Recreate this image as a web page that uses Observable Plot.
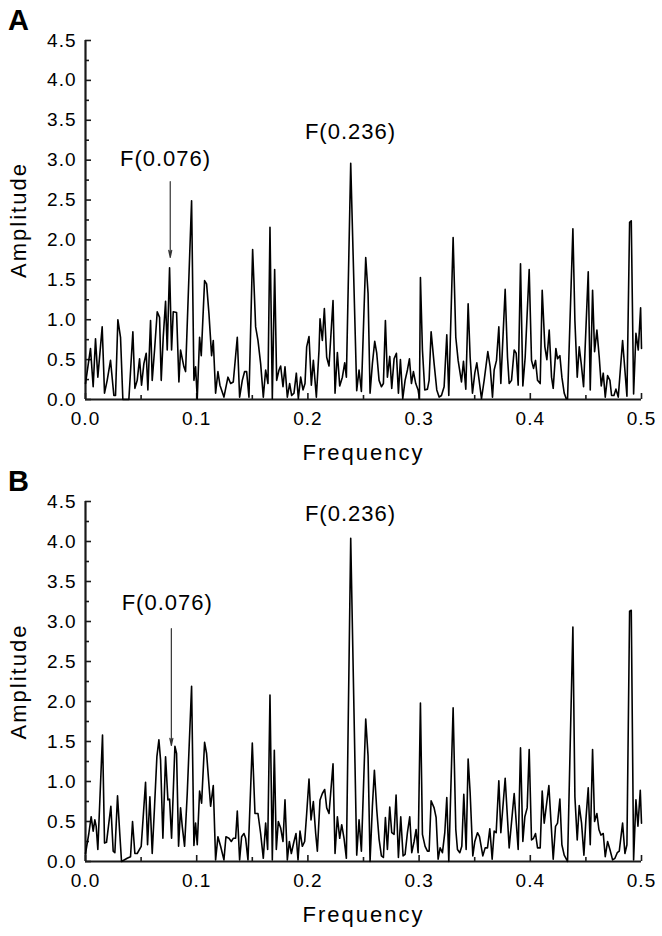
<!DOCTYPE html>
<html>
<head>
<meta charset="utf-8">
<script src="https://cdn.jsdelivr.net/npm/d3@7"></script>
<script src="https://cdn.jsdelivr.net/npm/@observablehq/plot@0.6"></script>
<style>
  html, body { margin: 0; padding: 0; background: #fff; }
  #chart svg { display: block; }
</style>
</head>
<body>
<div id="chart"></div>
<script>
// ---- data: [frequency, amplitude] ----
const seriesA = [
  [0.0000,0.20],[0.0045,0.64],[0.0069,0.16],[0.0090,0.76],[0.0111,0.28],[0.0150,0.91],[0.0171,0.08],[0.0195,0.24],
  [0.0225,0.49],[0.0255,0.05],[0.0270,0.05],[0.0291,1.00],[0.0315,0.78],[0.0336,0.00],[0.0390,0.00],[0.0426,0.85],
  [0.0444,0.14],[0.0465,0.24],[0.0486,0.51],[0.0504,0.18],[0.0525,0.45],[0.0546,0.58],[0.0561,0.12],[0.0585,0.99],
  [0.0600,0.24],[0.0621,0.62],[0.0645,1.10],[0.0666,1.03],[0.0681,0.24],[0.0699,0.78],[0.0720,1.23],[0.0735,0.62],
  [0.0756,1.65],[0.0774,0.62],[0.0789,1.10],[0.0819,1.09],[0.0840,0.22],[0.0855,0.62],[0.0885,0.41],[0.0900,0.35],
  [0.0954,2.49],[0.0975,0.24],[0.0990,0.41],[0.1005,0.01],[0.1026,0.78],[0.1041,0.55],[0.1071,1.49],[0.1089,1.45],
  [0.1110,1.08],[0.1134,0.55],[0.1149,0.74],[0.1170,0.08],[0.1191,0.35],[0.1209,0.18],[0.1245,0.03],[0.1281,0.28],
  [0.1305,0.20],[0.1329,0.22],[0.1365,0.78],[0.1386,0.03],[0.1410,0.24],[0.1431,0.35],[0.1449,0.35],[0.1470,0.03],
  [0.1503,1.88],[0.1530,0.91],[0.1551,0.74],[0.1575,0.45],[0.1599,0.03],[0.1620,0.37],[0.1641,0.20],[0.1659,2.16],
  [0.1680,0.01],[0.1701,1.63],[0.1719,0.24],[0.1740,0.37],[0.1755,0.42],[0.1776,0.16],[0.1794,0.41],[0.1815,0.03],
  [0.1836,0.20],[0.1854,0.05],[0.1875,0.08],[0.1896,0.33],[0.1914,0.01],[0.1935,0.28],[0.1956,0.12],[0.1974,0.20],
  [0.1989,0.66],[0.2010,0.79],[0.2031,0.18],[0.2049,0.49],[0.2076,0.03],[0.2100,0.62],[0.2109,1.01],[0.2130,0.74],
  [0.2148,1.14],[0.2169,0.53],[0.2190,0.42],[0.2226,1.24],[0.2244,0.08],[0.2265,0.59],[0.2286,0.17],[0.2310,0.28],
  [0.2331,0.46],[0.2346,0.28],[0.2385,2.96],[0.2439,0.11],[0.2460,0.37],[0.2481,0.10],[0.2520,1.78],[0.2541,1.33],
  [0.2559,0.08],[0.2580,0.45],[0.2601,0.73],[0.2619,0.58],[0.2640,0.24],[0.2661,0.16],[0.2679,0.20],[0.2697,0.99],
  [0.2715,0.28],[0.2736,0.54],[0.2754,0.14],[0.2775,0.51],[0.2796,0.58],[0.2814,0.08],[0.2832,0.50],[0.2853,0.01],
  [0.2874,0.24],[0.2895,0.37],[0.2913,0.51],[0.2931,0.20],[0.2949,0.35],[0.2970,0.20],[0.2991,0.12],[0.3003,0.01],
  [0.3012,1.53],[0.3030,0.62],[0.3051,0.12],[0.3075,0.13],[0.3090,0.24],[0.3108,0.85],[0.3135,0.45],[0.3159,0.12],
  [0.3180,0.03],[0.3201,0.05],[0.3225,0.16],[0.3249,0.81],[0.3267,0.05],[0.3306,2.03],[0.3330,0.78],[0.3351,0.49],
  [0.3381,0.22],[0.3399,0.48],[0.3420,0.13],[0.3441,1.20],[0.3459,0.53],[0.3480,0.08],[0.3501,0.33],[0.3519,0.46],
  [0.3540,0.24],[0.3561,0.01],[0.3585,0.24],[0.3618,0.60],[0.3639,0.41],[0.3660,0.03],[0.3675,0.37],[0.3696,0.49],
  [0.3717,0.91],[0.3735,0.20],[0.3774,1.38],[0.3795,0.53],[0.3810,0.20],[0.3831,0.24],[0.3855,0.62],[0.3873,0.58],
  [0.3891,0.18],[0.3912,1.70],[0.3933,0.17],[0.3954,0.53],[0.3990,1.63],[0.4011,0.49],[0.4029,0.39],[0.4047,0.49],
  [0.4065,0.24],[0.4089,0.20],[0.4107,1.37],[0.4131,0.66],[0.4149,0.50],[0.4170,0.87],[0.4191,0.28],[0.4206,0.14],
  [0.4230,0.64],[0.4245,0.51],[0.4266,0.55],[0.4284,0.28],[0.4305,0.08],[0.4323,0.01],[0.4335,0.01],[0.4383,2.14],
  [0.4401,0.99],[0.4422,0.28],[0.4440,0.66],[0.4458,0.45],[0.4479,0.16],[0.4521,1.60],[0.4539,0.12],[0.4560,1.37],
  [0.4578,0.60],[0.4599,0.87],[0.4620,0.53],[0.4638,0.17],[0.4656,0.33],[0.4674,0.03],[0.4695,0.30],[0.4716,0.24],
  [0.4731,0.05],[0.4752,0.05],[0.4770,0.13],[0.4791,0.03],[0.4830,0.74],[0.4869,0.04],[0.4893,2.22],[0.4908,2.24],
  [0.4929,0.07],[0.4950,0.83],[0.4971,0.62],[0.4992,1.15],[0.5000,0.64]
];

const seriesB = [
  [0.0000,0.10],[0.0030,0.35],[0.0051,0.56],[0.0069,0.38],[0.0084,0.52],[0.0096,0.44],[0.0111,0.15],[0.0153,1.58],
  [0.0171,0.23],[0.0189,0.24],[0.0228,0.69],[0.0249,0.13],[0.0264,0.11],[0.0288,0.82],[0.0309,0.33],[0.0324,0.00],
  [0.0375,0.04],[0.0405,0.06],[0.0423,0.50],[0.0444,0.10],[0.0465,0.10],[0.0501,0.19],[0.0540,0.99],[0.0558,0.21],
  [0.0579,0.81],[0.0600,0.10],[0.0621,0.69],[0.0642,1.31],[0.0660,1.52],[0.0675,1.27],[0.0696,0.29],[0.0720,1.31],
  [0.0741,0.77],[0.0756,0.78],[0.0774,0.29],[0.0804,1.44],[0.0819,1.35],[0.0837,0.19],[0.0855,0.67],[0.0870,0.44],
  [0.0891,0.19],[0.0915,0.85],[0.0954,2.19],[0.0975,0.20],[0.0990,0.48],[0.1005,0.21],[0.1026,0.88],[0.1044,0.73],
  [0.1071,1.49],[0.1089,1.35],[0.1125,0.69],[0.1149,0.95],[0.1170,0.02],[0.1191,0.31],[0.1215,0.19],[0.1245,0.02],
  [0.1263,0.31],[0.1290,0.29],[0.1311,0.25],[0.1329,0.29],[0.1350,0.29],[0.1365,0.63],[0.1386,0.02],[0.1404,0.31],
  [0.1425,0.35],[0.1440,0.29],[0.1461,0.02],[0.1500,1.48],[0.1524,0.60],[0.1551,0.60],[0.1575,0.35],[0.1599,0.04],
  [0.1620,0.48],[0.1638,0.15],[0.1659,2.08],[0.1680,0.02],[0.1698,1.39],[0.1716,0.15],[0.1734,0.50],[0.1755,0.42],
  [0.1776,0.25],[0.1794,0.77],[0.1815,0.02],[0.1833,0.25],[0.1851,0.10],[0.1875,0.25],[0.1893,0.35],[0.1911,0.02],
  [0.1929,0.38],[0.1950,0.19],[0.1971,0.25],[0.1989,0.60],[0.2010,1.03],[0.2028,0.52],[0.2049,0.75],[0.2070,0.35],
  [0.2085,0.13],[0.2109,0.77],[0.2130,0.85],[0.2151,0.90],[0.2169,0.67],[0.2190,0.60],[0.2226,1.22],[0.2244,0.10],
  [0.2265,0.56],[0.2286,0.29],[0.2304,0.46],[0.2325,0.29],[0.2346,0.04],[0.2385,4.04],[0.2439,0.08],[0.2460,0.52],
  [0.2481,0.13],[0.2520,1.78],[0.2541,1.32],[0.2559,0.00],[0.2580,0.69],[0.2598,1.14],[0.2619,0.65],[0.2640,0.28],
  [0.2661,0.07],[0.2679,0.05],[0.2697,0.55],[0.2715,0.15],[0.2736,0.68],[0.2754,0.36],[0.2775,0.34],[0.2793,0.83],
  [0.2814,0.05],[0.2835,0.56],[0.2856,0.07],[0.2874,0.09],[0.2895,0.36],[0.2916,0.56],[0.2934,0.11],[0.2955,0.25],
  [0.2973,0.40],[0.2991,0.11],[0.3012,1.98],[0.3030,0.34],[0.3054,0.19],[0.3075,0.13],[0.3090,0.13],[0.3108,0.76],
  [0.3135,0.67],[0.3153,0.55],[0.3171,0.03],[0.3189,0.17],[0.3210,0.11],[0.3231,0.36],[0.3249,0.80],[0.3267,0.00],
  [0.3306,1.92],[0.3330,0.40],[0.3345,0.15],[0.3366,0.11],[0.3384,0.19],[0.3402,0.84],[0.3423,0.15],[0.3441,1.28],
  [0.3459,0.86],[0.3483,0.07],[0.3501,0.25],[0.3525,0.36],[0.3543,0.31],[0.3573,0.07],[0.3594,0.17],[0.3615,0.17],
  [0.3636,0.41],[0.3657,0.03],[0.3675,0.38],[0.3693,0.36],[0.3717,1.01],[0.3735,0.36],[0.3774,1.04],[0.3810,0.17],
  [0.3855,0.85],[0.3891,0.15],[0.3912,1.42],[0.3933,0.25],[0.3951,0.56],[0.3972,0.67],[0.3990,1.40],[0.4011,0.27],
  [0.4029,0.29],[0.4047,0.35],[0.4065,0.17],[0.4089,0.17],[0.4107,0.88],[0.4125,0.48],[0.4167,0.95],[0.4185,0.52],
  [0.4206,0.03],[0.4227,0.44],[0.4245,0.48],[0.4266,0.78],[0.4284,0.21],[0.4305,0.08],[0.4335,0.00],[0.4383,2.93],
  [0.4401,0.81],[0.4422,0.27],[0.4440,0.70],[0.4461,0.48],[0.4482,0.08],[0.4500,0.52],[0.4521,0.92],[0.4539,0.21],
  [0.4560,1.40],[0.4578,0.50],[0.4599,0.60],[0.4617,0.40],[0.4635,0.33],[0.4656,0.35],[0.4674,0.06],[0.4695,0.25],
  [0.4716,0.15],[0.4740,0.02],[0.4761,0.04],[0.4782,0.11],[0.4800,0.13],[0.4830,0.48],[0.4851,0.10],[0.4869,0.21],
  [0.4893,3.13],[0.4908,3.14],[0.4929,0.02],[0.4950,0.77],[0.4968,0.44],[0.4989,0.89],[0.5000,0.48]
];

// ---- ticks and labels ----
const yTicks = [0, 0.5, 1, 1.5, 2, 2.5, 3, 3.5, 4, 4.5];
const yMinorTicks = [0.25, 0.75, 1.25, 1.75, 2.25, 2.75, 3.25, 3.75, 4.25];
const xTicks = [0, 0.1, 0.2, 0.3, 0.4, 0.5];
const xMinorTicks = [0.05, 0.15, 0.25, 0.35, 0.45];
const xTitle = "Frequency";
const yTitle = "Amplitude";

// annotation texts and arrows per panel
const notesA = [
  {label: "F(0.076)", x: 0.0720, y: 3.01},
  {label: "F(0.236)", x: 0.2383, y: 3.35}
];
const arrowsA = [{x: 0.0762, y1: 2.73, y2: 1.78}];
const notesB = [
  {label: "F(0.076)", x: 0.0735, y: 3.23},
  {label: "F(0.236)", x: 0.2383, y: 4.34}
];
const arrowsB = [{x: 0.0772, y1: 2.91, y2: 1.45}];

const FONT = "'Liberation Sans', Arial, Helvetica, sans-serif";
const AXIS = "#1a1a1a";
const fmt = d3.format(".1f");
const blank = () => "";

function panel(series, letter, notes, arrows, top, bottom) {
  const rows = series.map(([f, a]) => ({f, a}));
  return Plot.plot({
    width: 662,
    height: 468,
    marginLeft: 85,
    marginRight: 21,
    marginTop: top,
    marginBottom: bottom,
    style: {fontFamily: FONT, fontSize: "19px", color: "#000", background: "#fff", overflow: "visible"},
    x: {domain: [0, 0.5]},
    y: {domain: [0, 4.5]},
    marks: [
      Plot.axisY({ticks: yTicks, tickSize: 0, tickPadding: 9, tickFormat: fmt, label: null, fontSize: 19}),
      Plot.axisY({ticks: yTicks, tickSize: -6, tickFormat: blank, label: null, stroke: AXIS, strokeWidth: 1.6}),
      Plot.axisY({ticks: yMinorTicks, tickSize: -4, tickFormat: blank, label: null, stroke: AXIS, strokeWidth: 1.6}),
      Plot.axisX({ticks: xTicks, tickSize: 0, tickPadding: 12, tickFormat: fmt, label: null, fontSize: 19}),
      Plot.axisX({ticks: xTicks, tickSize: -6, tickFormat: blank, label: null, stroke: AXIS, strokeWidth: 1.6}),
      Plot.axisX({ticks: xMinorTicks, tickSize: -4, tickFormat: blank, label: null, stroke: AXIS, strokeWidth: 1.6}),
      Plot.ruleX([0], {stroke: AXIS, strokeWidth: 2.2}),
      Plot.ruleY([0], {stroke: AXIS, strokeWidth: 2.2}),
      Plot.line(rows, {x: "f", y: "a", stroke: "#000", strokeWidth: 1.6}),
      Plot.arrow(arrows, {x1: "x", x2: "x", y1: "y1", y2: "y2", stroke: "#333", strokeWidth: 1.2, headLength: 9, headAngle: 24}),
      Plot.text(notes, {x: "x", y: "y", text: "label", fontSize: 22, textAnchor: "middle", lineAnchor: "middle"}),
      Plot.text([xTitle], {frameAnchor: "bottom", dy: 53, fontSize: 22, textAnchor: "middle", lineAnchor: "middle"}),
      Plot.text([yTitle], {frameAnchor: "left", dx: -67, rotate: -90, fontSize: 22, textAnchor: "middle", lineAnchor: "middle"}),
      Plot.text([letter], {frameAnchor: "top-left", dx: -67, dy: -20, fontSize: 29, fontWeight: "bold", textAnchor: "middle", lineAnchor: "middle"})
    ]
  });
}

const chart = document.getElementById("chart");
chart.append(panel(seriesA, "A", notesA, arrowsA, 40, 69));
chart.append(panel(seriesB, "B", notesB, arrowsB, 33, 75));

// widen the lettering slightly to match the reference typeface
d3.select(chart).selectAll("text").each(function () {
  const t = this.textContent;
  let ls = "1px";
  if (t === xTitle || t === yTitle) ls = "2px";
  if (t === "A" || t === "B") ls = "0px";
  this.style.letterSpacing = ls;
});
</script>
</body>
</html>
